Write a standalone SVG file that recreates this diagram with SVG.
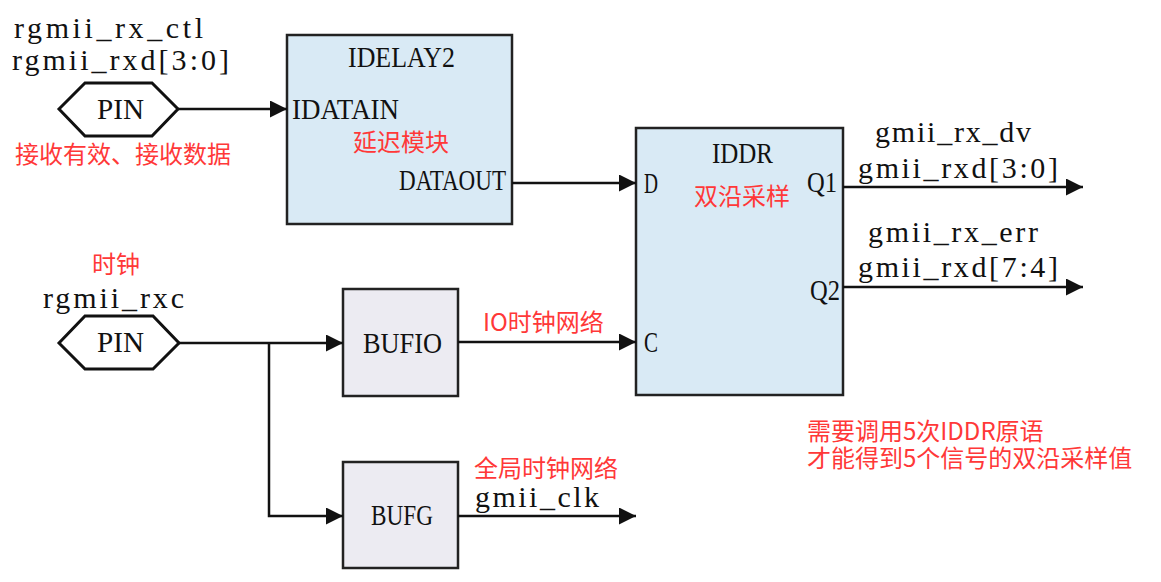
<svg xmlns="http://www.w3.org/2000/svg" width="1161" height="582" viewBox="0 0 1161 582">
<defs>
<style>
.m{font-family:"Liberation Serif","Times New Roman",serif;font-size:30px;fill:#111}
.r{font-family:"Noto Sans CJK SC","Noto Sans",sans-serif;font-size:24px;fill:#ff3838}
.blue{fill:#d9eaf5;stroke:#222;stroke-width:2.5}
.grey{fill:#ecebf2;stroke:#222;stroke-width:2.5}
.pin{fill:#fff;stroke:#111;stroke-width:3}
.w{fill:none;stroke:#111;stroke-width:2.5}
</style>
<marker id="ah" markerUnits="userSpaceOnUse" markerWidth="17" markerHeight="17" refX="17" refY="8.5" orient="auto">
<path d="M0,0 L17,8.5 L0,17 z" fill="#111"/>
</marker>
</defs>
<rect width="1161" height="582" fill="#fff"/>

<g id="pin1">
<polygon class="pin" points="59,109 85,83 152,83 178,109 152,136 85,136"/>
<text class="m" x="97" y="119" textLength="47" lengthAdjust="spacingAndGlyphs">PIN</text>
<text class="m" x="14" y="38" textLength="189" lengthAdjust="spacing">rgmii_rx_ctl</text>
<text class="m" x="12" y="70" textLength="217" lengthAdjust="spacing">rgmii_rxd[3:0]</text>
<text class="r" x="15" y="163">接收有效、接收数据</text>
</g>

<g id="idelay2">
<rect class="blue" x="287" y="35" width="225" height="189"/>
<text class="m" x="348" y="67" textLength="107" lengthAdjust="spacingAndGlyphs">IDELAY2</text>
<text class="m" x="292" y="119" textLength="107" lengthAdjust="spacingAndGlyphs">IDATAIN</text>
<text class="r" x="353" y="151">延迟模块</text>
<text class="m" x="399" y="190" textLength="107" lengthAdjust="spacingAndGlyphs">DATAOUT</text>
</g>

<g id="iddr">
<rect class="blue" x="636" y="128" width="207" height="267"/>
<text class="m" x="712" y="163" textLength="61" lengthAdjust="spacingAndGlyphs">IDDR</text>
<text class="m" x="644" y="193" textLength="14" lengthAdjust="spacingAndGlyphs">D</text>
<text class="r" x="694" y="205">双沿采样</text>
<text class="m" x="807" y="192" textLength="30" lengthAdjust="spacingAndGlyphs">Q1</text>
<text class="m" x="810" y="300" textLength="30" lengthAdjust="spacingAndGlyphs">Q2</text>
<text class="m" x="644" y="352" textLength="14" lengthAdjust="spacingAndGlyphs">C</text>
</g>

<g id="outputs">
<text class="m" x="875" y="142" textLength="156" lengthAdjust="spacing">gmii_rx_dv</text>
<text class="m" x="858" y="178" textLength="200" lengthAdjust="spacing">gmii_rxd[3:0]</text>
<text class="m" x="868" y="242" textLength="170" lengthAdjust="spacing">gmii_rx_err</text>
<text class="m" x="858" y="277" textLength="200" lengthAdjust="spacing">gmii_rxd[7:4]</text>
</g>

<g id="pin2">
<polygon class="pin" points="59,343 85,316 153,316 179,343 153,369 85,369"/>
<text class="m" x="97" y="352" textLength="47" lengthAdjust="spacingAndGlyphs">PIN</text>
<text class="r" x="92" y="273">时钟</text>
<text class="m" x="43" y="308" textLength="141" lengthAdjust="spacing">rgmii_rxc</text>
</g>

<g id="bufio">
<rect class="grey" x="343" y="289" width="115" height="107"/>
<text class="m" x="363" y="353" textLength="79" lengthAdjust="spacingAndGlyphs">BUFIO</text>
</g>

<g id="bufg">
<rect class="grey" x="343" y="462" width="115" height="106"/>
<text class="m" x="371" y="525" textLength="62" lengthAdjust="spacingAndGlyphs">BUFG</text>
</g>

<g id="labels">
<text class="r" x="483" y="331">IO时钟网络</text>
<text class="r" x="474" y="477">全局时钟网络</text>
<text class="m" x="475" y="507" textLength="124" lengthAdjust="spacing">gmii_clk</text>
<text class="r" x="807" y="440">需要调用5次IDDR原语</text>
<text class="r" x="807" y="467">才能得到5个信号的双沿采样值</text>
</g>

<g id="connectors">
<path class="w" d="M178,109 H287" marker-end="url(#ah)"/>
<path class="w" d="M512,183 H636" marker-end="url(#ah)"/>
<path class="w" d="M843,187 H1083" marker-end="url(#ah)"/>
<path class="w" d="M843,287 H1083" marker-end="url(#ah)"/>
<path class="w" d="M179,343 H343" marker-end="url(#ah)"/>
<path class="w" d="M269,343 V516 H343" marker-end="url(#ah)"/>
<path class="w" d="M458,342 H636" marker-end="url(#ah)"/>
<path class="w" d="M458,516 H636" marker-end="url(#ah)"/>
</g>
</svg>
